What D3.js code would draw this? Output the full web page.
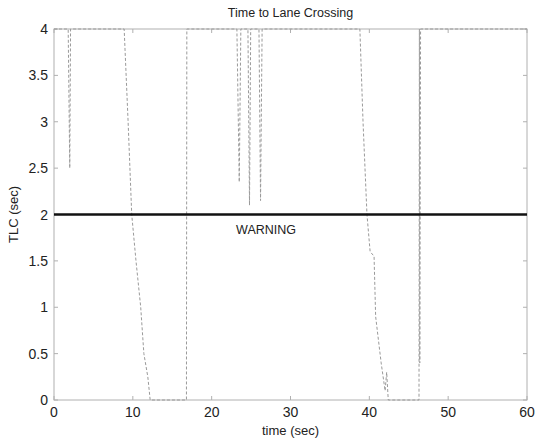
<!DOCTYPE html>
<html><head><meta charset="utf-8">
<script src="https://cdn.jsdelivr.net/npm/d3@7"></script>
<style>body{margin:0;background:#fff}svg{display:block}text{font-family:"Liberation Sans",Arial,sans-serif}</style>
</head><body><svg id="c" width="537" height="443"></svg>
<script>
const title = "Time to Lane Crossing";
const xLabel = "time (sec)";
const yLabel = "TLC (sec)";
const xTicks = [0,10,20,30,40,50,60];
const yTicks = [0,0.5,1,1.5,2,2.5,3,3.5,4];
const warningLevel = 2;
const warningText = "WARNING";
const time = [0,1.8,2.0,2.1,8.9,9.4,9.86,10.4,11.0,11.4,11.9,12.2,16.8,16.85,23.2,23.5,23.7,24.6,24.8,24.95,26.0,26.2,26.4,38.8,39.2,39.7,40.1,40.6,40.8,41.5,42.0,42.2,42.4,46.3,46.35,46.4,46.5,60];
const tlc  = [4,4,2.5,4,4,3,2,1.5,1,0.5,0.25,0,0,4,4,2.35,4,4,2.1,4,4,2.15,4,4,3,2,1.6,1.55,0.9,0.4,0.1,0.3,0,0,4,0.4,4,4];

const svg = d3.select("#c");
const m = {l:54, r:527, t:29, b:400};
const x = d3.scaleLinear().domain([0,60]).range([m.l,m.r]);
const y = d3.scaleLinear().domain([0,4]).range([m.b,m.t]);
const axisCol = "#b0b0b0", txtCol = "#222";

svg.append("defs").append("clipPath").attr("id","clip").append("rect")
  .attr("x",m.l).attr("y",m.t-1).attr("width",m.r-m.l).attr("height",m.b-m.t+2);

svg.append("rect").attr("x",m.l).attr("y",m.t).attr("width",m.r-m.l).attr("height",m.b-m.t)
  .attr("fill","none").attr("stroke",axisCol).attr("stroke-width",1);

const tk = 4;
xTicks.forEach(v=>{
  svg.append("line").attr("x1",x(v)).attr("x2",x(v)).attr("y1",m.b).attr("y2",m.b-tk).attr("stroke",axisCol);
  svg.append("line").attr("x1",x(v)).attr("x2",x(v)).attr("y1",m.t).attr("y2",m.t+tk).attr("stroke",axisCol);
  svg.append("text").attr("x",x(v)).attr("y",m.b+17).attr("text-anchor","middle")
    .attr("font-size",14).attr("fill",txtCol).text(v);
});
yTicks.forEach(v=>{
  svg.append("line").attr("x1",m.l).attr("x2",m.l+tk).attr("y1",y(v)).attr("y2",y(v)).attr("stroke",axisCol);
  svg.append("line").attr("x1",m.r).attr("x2",m.r-tk).attr("y1",y(v)).attr("y2",y(v)).attr("stroke",axisCol);
  svg.append("text").attr("x",m.l-6).attr("y",y(v)+5).attr("text-anchor","end")
    .attr("font-size",14).attr("fill",txtCol).text(v);
});

const data = time.map((t,i)=>({t, v:tlc[i]}));
const line = d3.line().x(d=>x(d.t)).y(d=>y(d.v));
svg.append("path").datum(data).attr("d",line).attr("clip-path","url(#clip)")
  .attr("fill","none").attr("stroke","#9a9a9a").attr("stroke-width",1).attr("stroke-dasharray","3,2");

svg.append("line").attr("x1",x(0)).attr("x2",x(60)).attr("y1",y(warningLevel)).attr("y2",y(warningLevel))
  .attr("stroke","#111").attr("stroke-width",2.5);
svg.append("text").attr("x",x(26.9)).attr("y",y(warningLevel)+19).attr("text-anchor","middle")
  .attr("font-size",12.5).attr("fill",txtCol).text(warningText);

svg.append("text").attr("x",(m.l+m.r)/2).attr("y",17).attr("text-anchor","middle")
  .attr("font-size",12.5).attr("fill",txtCol).text(title);
svg.append("text").attr("x",(m.l+m.r)/2).attr("y",435).attr("text-anchor","middle")
  .attr("font-size",13).attr("fill",txtCol).text(xLabel);
svg.append("text").attr("transform",`translate(18,${(m.t+m.b)/2}) rotate(-90)`).attr("text-anchor","middle")
  .attr("font-size",13).attr("fill",txtCol).text(yLabel);
</script></body></html>
